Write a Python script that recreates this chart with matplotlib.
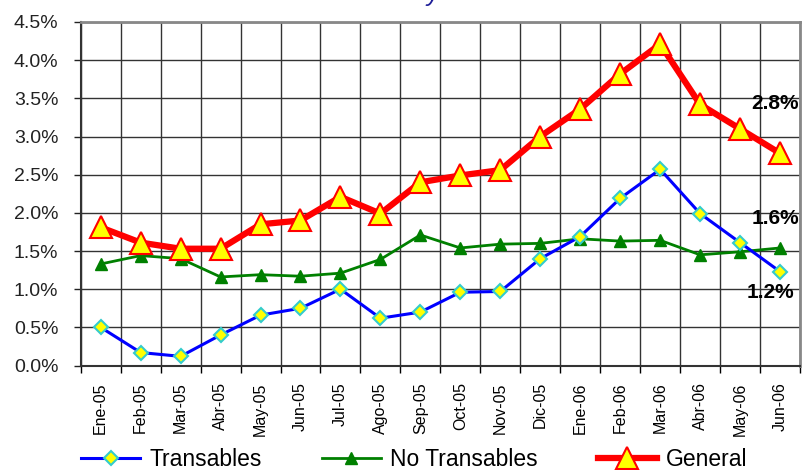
import numpy as np
import matplotlib
matplotlib.use('Agg')
import matplotlib.pyplot as plt
from matplotlib.ticker import FixedLocator, PercentFormatter

months = ['Ene-05', 'Feb-05', 'Mar-05', 'Abr-05', 'May-05', 'Jun-05',
          'Jul-05', 'Ago-05', 'Sep-05', 'Oct-05', 'Nov-05', 'Dic-05',
          'Ene-06', 'Feb-06', 'Mar-06', 'Abr-06', 'May-06', 'Jun-06']

transables = [0.50, 0.17, 0.12, 0.40, 0.66, 0.75, 1.00, 0.62, 0.70, 0.96,
              0.97, 1.40, 1.69, 2.19, 2.57, 1.99, 1.61, 1.23]
no_transables = [1.33, 1.44, 1.40, 1.16, 1.19, 1.17, 1.21, 1.39, 1.71, 1.54,
                 1.59, 1.60, 1.66, 1.63, 1.64, 1.45, 1.49, 1.54]
general = [1.81, 1.61, 1.53, 1.53, 1.85, 1.90, 2.21, 1.99, 2.40, 2.49,
           2.56, 3.00, 3.36, 3.82, 4.21, 3.42, 3.10, 2.78]

end_labels = ['2.8%', '1.6%', '1.2%']

plt.rcParams['font.family'] = ['Liberation Sans', 'DejaVu Sans']

fig = plt.figure(figsize=(8.03, 4.70), dpi=100)
ax = fig.add_axes([0.1005, 0.2223, 0.8958, 0.7309])

x = np.arange(len(months))

ax.plot(x, transables, color='#0000FF', lw=2.2, marker='D', ms=7,
        mfc='#FFFF00', mec='#33CCCC', mew=1.5, label='Transables', zorder=4)
ax.plot(x, no_transables, color='#008000', lw=2.0, marker='^', ms=8,
        mfc='#008000', mec='#008000', label='No Transables', zorder=3)
ax.plot(x, general, color='#FF0000', lw=4.5, marker='^', ms=16,
        mfc='#FFFF00', mec='#FF0000', mew=1.5, label='General', zorder=5)

ax.set_xlim(-0.5, len(months) - 0.5)
ax.set_ylim(0, 4.5)
ax.set_yticks(np.arange(0, 4.51, 0.5))
ax.yaxis.set_major_formatter(PercentFormatter(decimals=1))

# grid / ticks between categories, labels at centres
ax.set_xticks(np.arange(-0.5, len(months), 1.0))
ax.set_xticklabels([])
ax.xaxis.set_minor_locator(FixedLocator(x))
ax.set_xticks(x, minor=True)
ax.set_xticklabels(months, minor=True, rotation=90, fontsize=11.5)
ax.tick_params(axis='x', which='minor', length=0, pad=12)
ax.tick_params(axis='x', which='major', length=5, width=1, direction='out')
ax.tick_params(axis='y', length=5, width=1, direction='out', pad=11,
               labelsize=14, colors='#222222')

ax.grid(True, which='major', color='#333333', lw=1.0)
ax.set_axisbelow(True)
for s in ['left', 'bottom']:
    ax.spines[s].set_color('#333333')
    ax.spines[s].set_linewidth(1.5)
for s in ['top', 'right']:
    ax.spines[s].set_color('#888888')
    ax.spines[s].set_linewidth(2)

last = len(months) - 1
lab_pos = [(last - 0.12, general[last] + 0.65),
           (last - 0.12, no_transables[last] + 0.38),
           (last - 0.25, transables[last] - 0.28)]
for txt, (xx, yy) in zip(end_labels, lab_pos):
    ax.text(xx, yy, txt, ha='center', va='center', fontsize=15,
            fontweight='bold', clip_on=False, zorder=6)

fig.text(433 / 803, 1 - 1.5 / 470, 'y', color='#1F1F99', fontsize=18,
         style='italic', ha='center', va='baseline')

fig.legend(loc='center', bbox_to_anchor=(0.516, 0.022), ncol=3,
           frameon=False, fontsize=16.5, handlelength=2.6, handletextpad=0.4,
           columnspacing=2.6, borderaxespad=0, borderpad=0)

fig.savefig('out.png', dpi=100)
